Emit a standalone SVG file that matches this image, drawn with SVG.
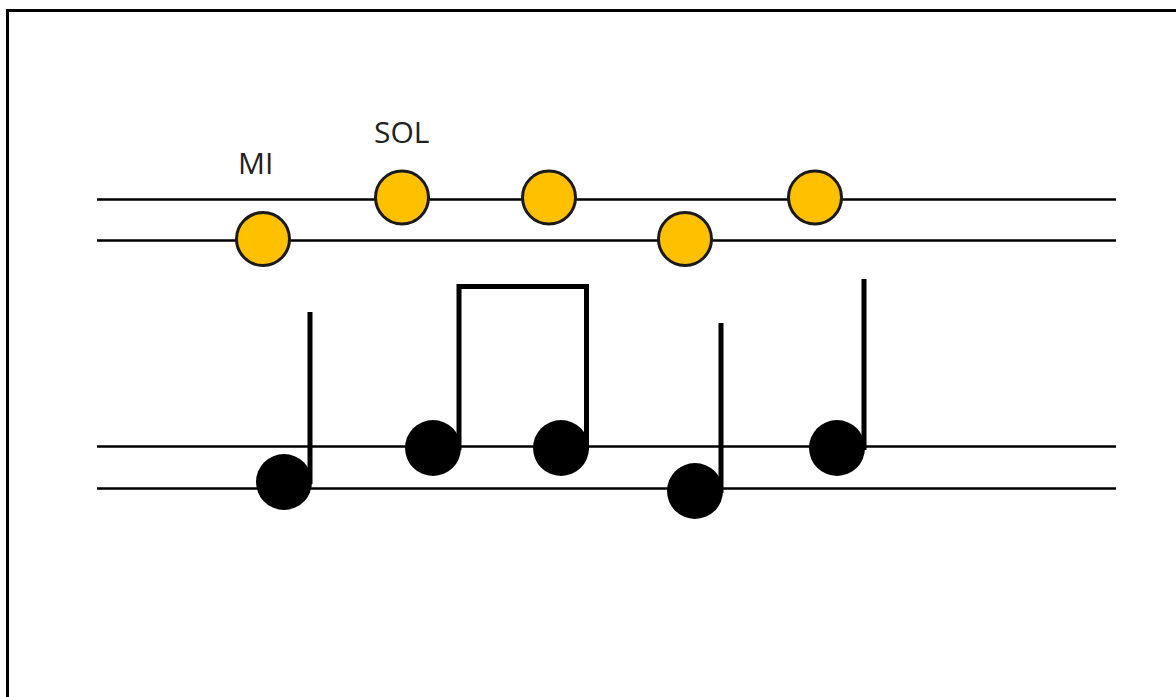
<svg xmlns="http://www.w3.org/2000/svg" width="1176" height="697" viewBox="0 0 1176 697">
<style>
.staff{stroke:#000;stroke-width:2.5;fill:none}
.yel{fill:#FFC000;stroke:#1a1a1a;stroke-width:3}
.head{fill:#000}
.stem{stroke:#000;stroke-width:5;fill:none}
.lbl{font-family:"Open Sans","Liberation Sans",sans-serif;font-size:30px;fill:#222}
</style>
<rect x="0" y="0" width="1176" height="697" fill="#fff"/>
<rect x="7.5" y="10.5" width="1200" height="720" fill="none" stroke="#000" stroke-width="3"/>
<g id="staff-lines">
<line class="staff" x1="97" y1="199.5" x2="1116" y2="199.5"/>
<line class="staff" x1="97" y1="240.5" x2="1116" y2="240.5"/>
<line class="staff" x1="97" y1="446.5" x2="1116" y2="446.5"/>
<line class="staff" x1="97" y1="488.5" x2="1116" y2="488.5"/>
</g>
<g id="label-mi"><text class="lbl" x="238" y="174">MI</text></g>
<g id="label-sol"><text class="lbl" x="374" y="143">SOL</text></g>
<g id="dot1"><circle class="yel" cx="263" cy="239" r="26.5"/></g>
<g id="dot2"><circle class="yel" cx="402" cy="197.5" r="26.5"/></g>
<g id="dot3"><circle class="yel" cx="549" cy="197.5" r="26.5"/></g>
<g id="dot4"><circle class="yel" cx="685" cy="239" r="26.5"/></g>
<g id="dot5"><circle class="yel" cx="815" cy="197.5" r="26.5"/></g>
<g id="note1"><circle class="head" cx="284" cy="482" r="28"/><line class="stem" x1="310" y1="312" x2="310" y2="484"/></g>
<g id="note2-3"><circle class="head" cx="433" cy="448" r="28"/><circle class="head" cx="561" cy="448" r="28"/><path class="stem" d="M459 450 V286.5 H586.5 V450"/></g>
<g id="note4"><circle class="head" cx="695" cy="491" r="28"/><line class="stem" x1="721" y1="323" x2="721" y2="493"/></g>
<g id="note5"><circle class="head" cx="837" cy="448" r="28"/><line class="stem" x1="864" y1="279" x2="864" y2="450"/></g>
</svg>
